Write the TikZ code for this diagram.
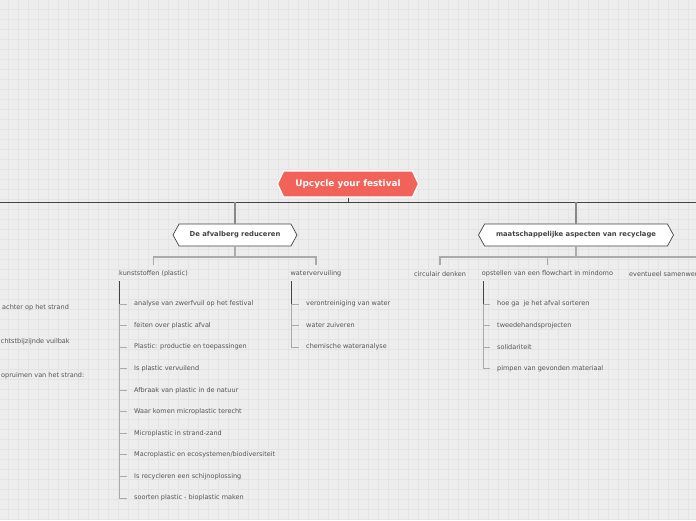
\documentclass[tikz,border=0pt]{standalone}
\usepackage{fontspec}
\setmainfont{DejaVu Sans}
\usetikzlibrary{shapes.symbols}
\definecolor{mdbg}{RGB}{237,237,237}
\definecolor{mdgrid}{RGB}{228,228,228}
\definecolor{mdroot}{RGB}{241,98,88}
\definecolor{mdtext}{RGB}{85,85,85}
\definecolor{mdline}{RGB}{68,68,68}
\definecolor{mdgray}{RGB}{136,136,136}
\definecolor{mdbranch}{RGB}{170,170,170}

\begin{document}
\begin{tikzpicture}[x=1pt,y=-1pt,
  rootnode/.style={signal, signal to=west and east, signal pointer angle=130,
    fill=mdroot, draw=white, line width=1.2pt, text=white,
    font=\fontsize{8.9}{10}\selectfont\bfseries, minimum width=141pt, minimum height=26pt},
  topic/.style={signal, signal to=west and east, signal pointer angle=122,
    fill=white, draw=mdline, line width=0.7pt, text=mdline,
    font=\fontsize{6.8}{8}\selectfont\bfseries, minimum height=22pt},
  label/.style={text=mdtext, font=\fontsize{6.5}{7.5}\selectfont, inner sep=0pt},
  branch/.style={mdbranch, line width=1.2pt},
  spine/.style={mdbranch, line width=0.8pt},
  spinetop/.style={mdline, line width=0.8pt}
]
\useasboundingbox (0,0) rectangle (696,520);
\clip (0,0) rectangle (696,520);
\fill[mdbg] (0,0) rectangle (696,520);
\foreach \gx in {8,18,...,696} \draw[mdgrid, line width=0.6pt] (\gx,0) -- (\gx,520);
\foreach \gy in {9,19,...,520} \draw[mdgrid, line width=0.6pt] (0,\gy) -- (696,\gy);

\node[rootnode] (root) at (348,184) {Upcycle your festival};
\coordinate (busL) at (0,202);
\coordinate (busR) at (696,202);
\draw[mdline, line width=0.9pt] (busL) -- (busR);
\draw[mdline, line width=1pt] (root.south) -- (root.south |- busL);

\node[topic, minimum width=124pt] (afval) at (235,235) {De afvalberg reduceren};
\node[topic, minimum width=195pt] (maat) at (576,235) {maatschappelijke aspecten van recyclage};
\draw[mdgray, line width=1.5pt] (afval.north |- busL) -- (afval.north);
\draw[mdgray, line width=1.5pt] (maat.north |- busL) -- (maat.north);

\node[label] (kunst) at (153.5,274) {kunststoffen (plastic)};
\node[label] (water) at (316,274) {watervervuiling};
\coordinate (forkA) at (235,257);
\draw[branch] (afval.south) -- (forkA);
\draw[branch] ([yshift=6pt]kunst.north) |- (forkA) -| ([yshift=6pt]water.north);

\node[label] (circ) at (440,274) {circulair denken};
\node[label] (flow) at (547.5,274) {opstellen van een flowchart in mindomo};
\node[label, anchor=west] (samen) at (629,274) {eventueel samenwer};
\coordinate (forkB) at (576,257);
\coordinate (forkR) at (696,257);
\draw[branch] (maat.south) -- (forkB);
\draw[branch] ([yshift=6pt]circ.north) |- (forkR);
\draw[branch] ([yshift=6pt]flow.north) -- (flow.north |- forkB);

\node[label, anchor=west] (strand) at (2,308) {achter op het strand};
\node[label, anchor=west] (vuilbak) at (0.8,342) {chtstbijzijnde vuilbak};
\node[label, anchor=west] (opruim) at (1,376) {opruimen van het strand:};

\coordinate (kspine) at (119,281);
\foreach \t [count=\i] in {analyse van zwerfvuil op het festival, feiten over plastic afval,
  Plastic: productie en toepassingen, Is plastic vervuilend, Afbraak van plastic in de natuur,
  Waar komen microplastic terecht, Microplastic in strand-zand,
  Macroplastic en ecosystemen/biodiversiteit, Is recycleren een schijnoplossing,
  soorten plastic - bioplastic maken}{
  \node[label, anchor=west] (k\i) at (134,304+\i*21.55-21.55) {\t};
  \draw[spine] (kspine) |- ([xshift=-7pt]k\i.west);
}
\draw[spinetop] (kspine) -- (kspine |- k1.west);

\coordinate (wspine) at (291,281);
\foreach \t [count=\i] in {verontreiniging van water, water zuiveren, chemische wateranalyse}{
  \node[label, anchor=west] (w\i) at (306,304+\i*21.5-21.5) {\t};
  \draw[spine] (wspine) |- ([xshift=-7pt]w\i.west);
}
\draw[spinetop] (wspine) -- (wspine |- w1.west);

\coordinate (fspine) at (483,281);
\foreach \t [count=\i] in {hoe ga\ \ je het afval sorteren, tweedehandsprojecten, solidariteit,
  pimpen van gevonden materiaal}{
  \node[label, anchor=west] (f\i) at (497,304+\i*21.6-21.6) {\t};
  \draw[spine] (fspine) |- ([xshift=-7pt]f\i.west);
}
\draw[spinetop] (fspine) -- (fspine |- f1.west);
\end{tikzpicture}
\end{document}
